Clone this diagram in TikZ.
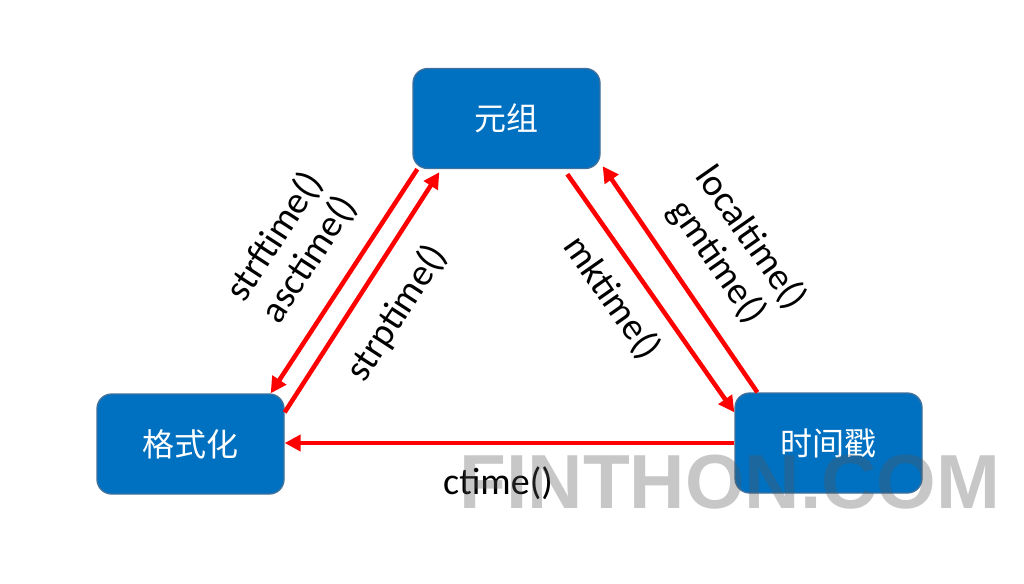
\documentclass[tikz,border=0pt]{standalone}
\usepackage{fontspec}
\setmainfont{Carlito}
\newfontfamily\cjk{Noto Sans CJK SC}
\newfontfamily\wmfont{Liberation Sans}
\usetikzlibrary{arrows.meta,calc}
\definecolor{boxblue}{RGB}{0,112,192}
\definecolor{boxedge}{RGB}{65,113,156}
\definecolor{arrred}{RGB}{255,0,0}
\definecolor{wmgray}{RGB}{86,86,86}
\tikzset{
  box/.style={draw=boxedge, line width=1pt, fill=boxblue, rounded corners=11pt,
    minimum width=140.25pt, minimum height=75pt, inner sep=0pt,
    text=white, font=\cjk\fontsize{24}{28}\selectfont},
  arr/.style={draw=arrred, line width=3.4pt, -{Triangle[length=12pt,width=12pt]}},
  lbl/.style={font=\fontsize{28.5}{31}\selectfont, align=center, inner sep=0pt, text=black},
  wm/.style={font=\wmfont\bfseries\fontsize{57.5}{60}\selectfont, text=wmgray, text opacity=0.33, inner sep=0pt}
}
\begin{document}
\begin{tikzpicture}[x=0.75pt,y=-0.75pt]
\useasboundingbox (0,0) rectangle (1024,583);
\fill[white] (0,0) rectangle (1024,583);
\node[box] (top) at (506.5,118.5) {元组};
\node[box] (left) at (190.5,444) {格式化};
\node[box] (right) at (828.5,443) {时间戳};
% arrows
\draw[arr] ($(top.south west)+(5,0)$) -- ($(left.north east)+(-14,0)$);
\draw[arr] ($(left.north east)+(0,19)$) -- ($(top.south west)+(27,3)$);
\draw[arr] ($(top.south west)+(155,5)$) -- ($(right.north west)+(0,20)$);
\draw[arr] ($(right.north west)+(23,0)$) -- ($(top.south east)+(2,-3)$);
\draw[arr] (right.west) -- (right.west -| left.east);
% labels
\node[lbl, rotate=57] (l1) at (292,248) {strftime()\\asctime()};
\node[lbl, rotate=57] (l2) at (397,313) {strptime()};
\node[lbl, rotate=-55] (l3) at (734,250) {localtime()\\gmtime()};
\node[lbl, rotate=-55] (l4) at (612,298) {mktime()};
\node[lbl] (l5) at (498,483) {ctime()};
% watermark
\node[wm, anchor=base] (wmk) at (730,508) {FINTHON.COM};
\end{tikzpicture}
\end{document}
